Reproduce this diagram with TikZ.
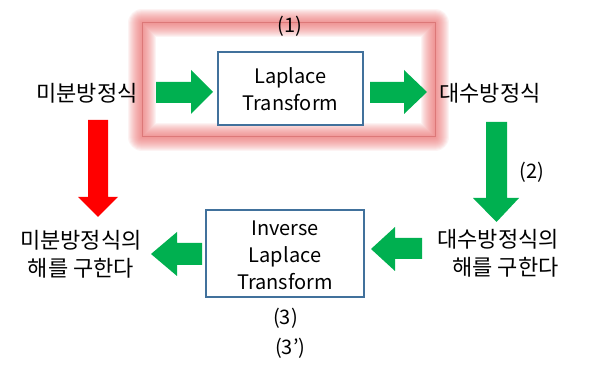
\documentclass[tikz,border=0pt]{standalone}
\usepackage{fontspec}
\setmainfont{Noto Sans CJK KR}
\definecolor{offgreen}{HTML}{00B050}
\definecolor{boxblue}{HTML}{41719C}
\definecolor{glowred}{HTML}{EE6A6A}
\tikzset{
  kor/.style={font=\fontsize{22}{28}\selectfont, inner sep=0pt},
  lat/.style={font=\fontsize{20}{27}\selectfont, inner sep=0pt},
  tbox/.style={draw=boxblue, line width=1.3pt, fill=white},
  garrow/.style={fill=offgreen},
  rarrow/.style={fill=red},
  glowline/.style={glowred, line join=round, opacity=0.075},
}
\begin{document}
\begin{tikzpicture}[x=1pt,y=-1pt]
\useasboundingbox[fill=white] (0,0) rectangle (600,371);
% glow frame
\foreach \w in {2,4,...,28}{
  \draw[glowline, line width=\w pt] (142,23) rectangle (435,137);
}
\draw[glowred!85!black, line width=1pt, opacity=0.5] (142,23) rectangle (435,137);
\node[lat] (one) at (290,26) {(1)};
% Laplace box
\draw[tbox] (218,52) rectangle (363,125);
\node[lat, align=center] (lap) at (290.5,89) {Laplace\\Transform};
% texts
\node[kor] (de) at (87,93) {미분방정식};
\node[kor] (ae) at (490,93) {대수방정식};
\node[kor, align=center] (des) at (81,254) {미분방정식의\\해를 구한다};
\node[kor, align=right] (aes) at (498,253) {대수방정식의\\해를 구한다};
% Inverse box
\draw[tbox] (206,210) rectangle (364,297);
\node[lat, align=center] (inv) at (285,255) {Inverse\\Laplace\\Transform};
\node[lat] (two) at (532,172) {(2)};
\node[lat, anchor=west] (three) at (273,318) {(3)};
\node[lat, anchor=west] (threep) at (275,348) {(3’)};
% arrows
\fill[garrow] (156,82) -- (191,82) -- (191,70) -- (213,92) -- (191,114) -- (191,103) -- (156,103) -- cycle;
\fill[garrow] (370,82) -- (404,82) -- (404,70) -- (427,92) -- (404,114) -- (404,103) -- (370,103) -- cycle;
\fill[rarrow] (88,120) -- (108,120) -- (108,197) -- (118,197) -- (98,217) -- (78,197) -- (88,197) -- cycle;
\fill[garrow] (486,122) -- (507,122) -- (507,198) -- (519,198) -- (496.5,222) -- (473,198) -- (486,198) -- cycle;
\fill[garrow] (422,238) -- (395,238) -- (395,227) -- (371,249) -- (395,271) -- (395,259) -- (422,259) -- cycle;
\fill[garrow] (202,243) -- (177,243) -- (177,232) -- (151,254) -- (177,276) -- (177,265) -- (202,265) -- cycle;
\end{tikzpicture}
\end{document}
